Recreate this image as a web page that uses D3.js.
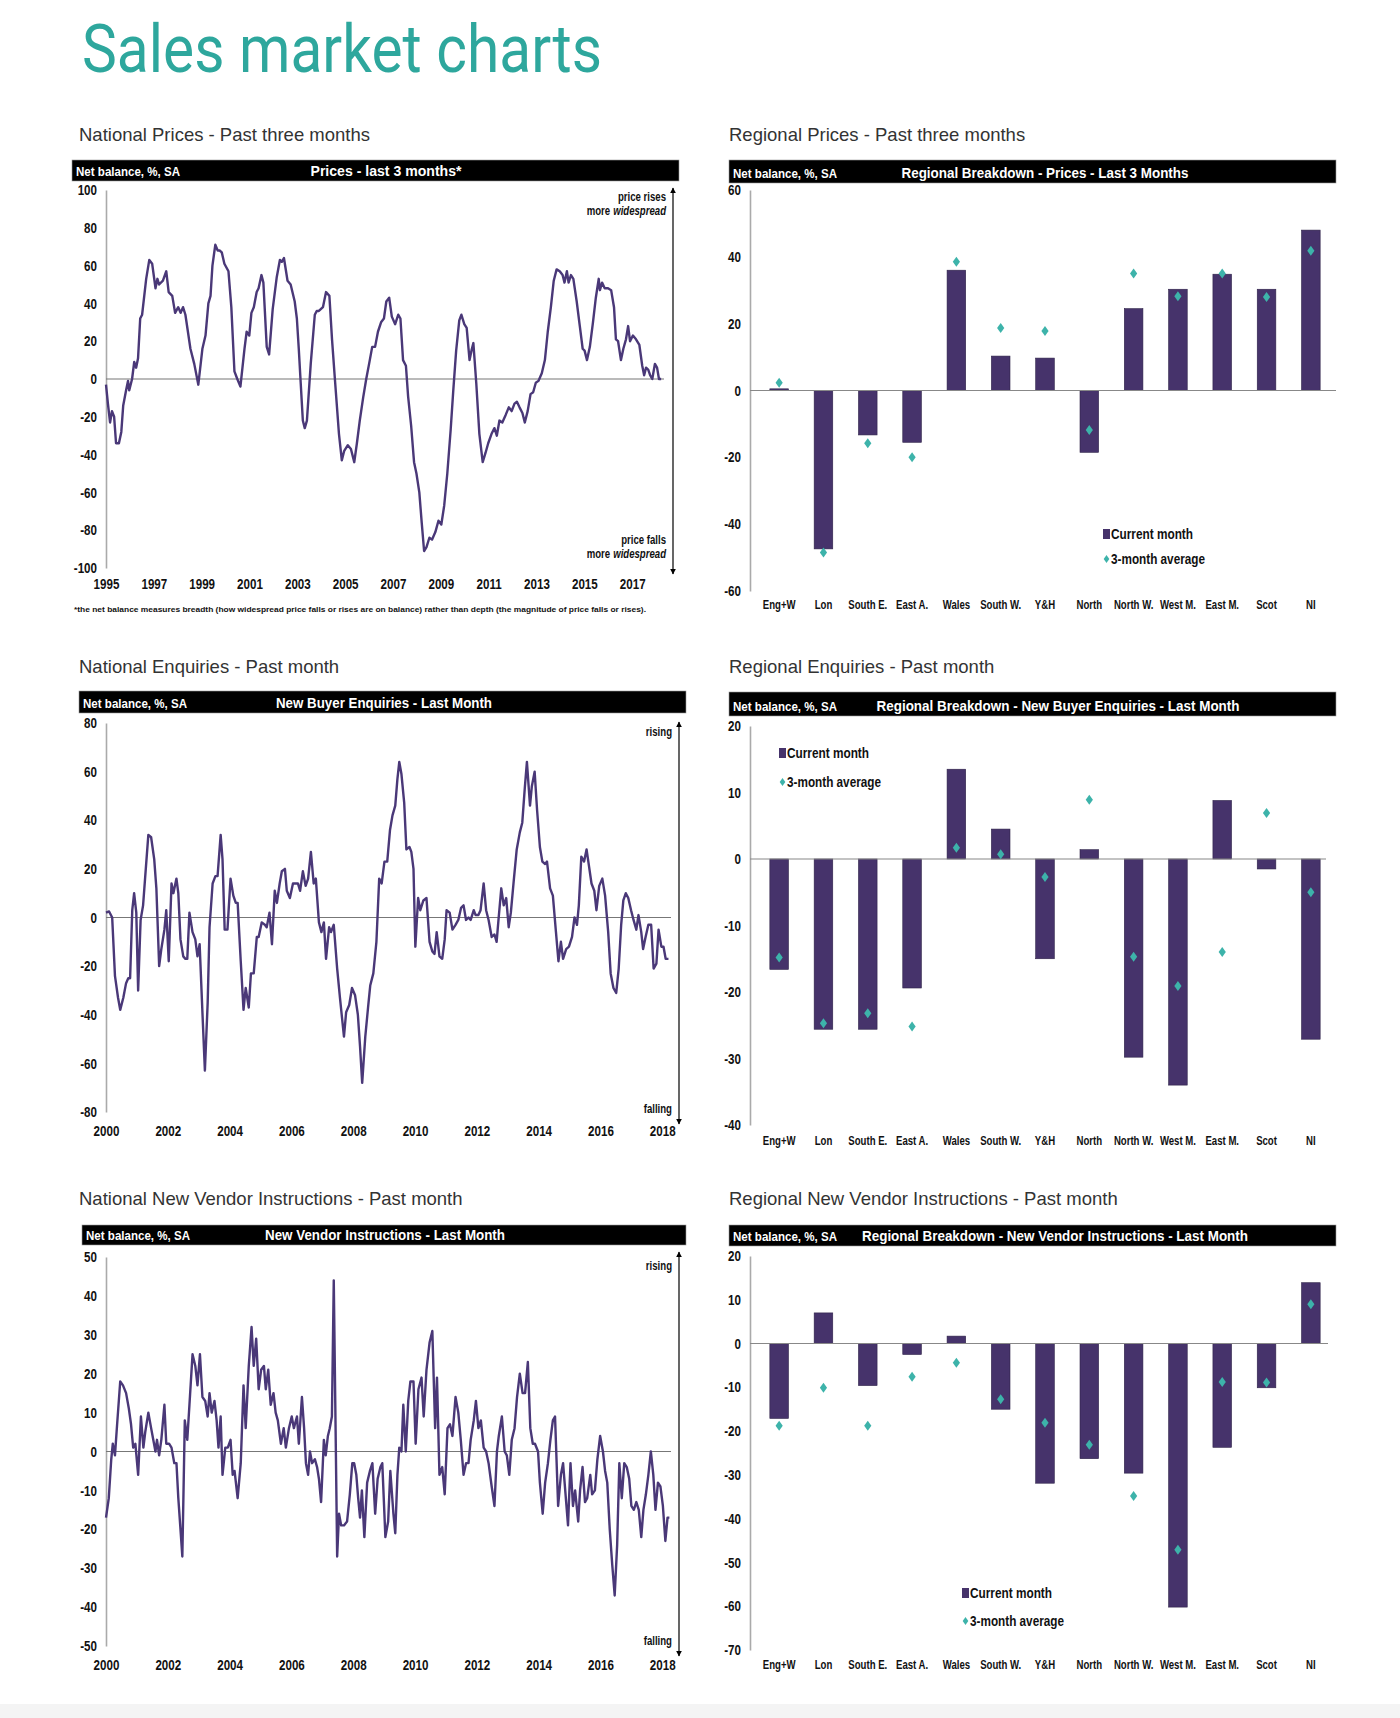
<!DOCTYPE html>
<html>
<head>
<meta charset="utf-8">
<script src="https://cdn.jsdelivr.net/npm/d3@7"></script>
<style>
  body { margin: 0; background: #fff; }
  svg { display: block; }
</style>
</head>
<body>
<script>
let width = 1400
let height = 1718
let narrow = '"Liberation Sans", Arial, sans-serif'
let squeeze = 0.8
let barColor = "#46336b"
let lineColor = "#4a3878"
let teal = "#3db3aa"

// ---- data ----
let regions = ["Eng+W", "Lon", "South E.", "East A.", "Wales", "South W.", "Y&H", "North", "North W.", "West M.", "East M.", "Scot", "NI"]

let regPricesCurrent = [0.5, -47.4, -13.3, -15.5, 36, 10.3, 9.7, -18.5, 24.5, 30.3, 34.8, 30.3, 48]
let regPricesAvg = [2.3, -48.5, -15.8, -20, 38.5, 18.7, 17.8, -11.8, 35, 28.2, 35, 28, 41.8]

let regEnquiriesCurrent = [-16.6, -25.6, -25.6, -19.4, 13.5, 4.5, -15, 1.4, -29.8, -34, 8.8, -1.5, -27.1]
let regEnquiriesAvg = [-14.8, -24.7, -23.2, -25.2, 1.7, 0.7, -2.7, 8.9, -14.7, -19.1, -14, 6.9, -5]

let regVendorCurrent = [-17.1, 7, -9.6, -2.5, 1.7, -15, -31.9, -26.3, -29.6, -60.2, -23.7, -10.1, 13.9]
let regVendorAvg = [-18.8, -10.1, -18.8, -7.6, -4.4, -12.7, -18.1, -23.1, -34.8, -47.1, -8.8, -8.9, 9]

// [decimal year, net balance]
let nationalPrices = [
  [1995.00,-3],[1995.08,-13],[1995.17,-23],[1995.25,-17],[1995.34,-20],[1995.42,-34],[1995.54,-34],[1995.64,-28],
  [1995.72,-14],[1995.84,-6],[1995.92,-1],[1995.97,-6],[1996.09,0],[1996.18,9],[1996.26,6],[1996.34,11],[1996.43,32],
  [1996.51,34],[1996.68,53],[1996.81,63],[1996.93,61],[1997.07,48],[1997.15,53],[1997.22,50],[1997.38,52],[1997.52,57],
  [1997.62,46],[1997.77,44],[1997.89,35],[1998.02,38],[1998.12,35],[1998.22,38],[1998.32,34],[1998.53,16],[1998.69,8],
  [1998.86,-3],[1999.03,16],[1999.16,23],[1999.28,40],[1999.37,44],[1999.45,60],[1999.57,71],[1999.67,68],[1999.75,68],
  [1999.84,67],[1999.95,61],[2000.12,57],[2000.24,38],[2000.37,4],[2000.49,0],[2000.62,-4],[2000.79,16],[2000.88,25],
  [2000.99,23],[2001.08,35],[2001.18,38],[2001.30,46],[2001.38,48],[2001.50,55],[2001.58,51],[2001.72,17],[2001.82,13],
  [2001.97,37],[2002.14,54],[2002.27,63],[2002.35,62],[2002.44,64],[2002.59,52],[2002.72,50],[2002.89,41],[2002.98,32],
  [2003.06,16],[2003.14,-2],[2003.23,-22],[2003.31,-26],[2003.40,-22],[2003.56,8],[2003.73,34],[2003.81,36],[2003.90,36],
  [2004.07,38],[2004.20,46],[2004.34,44],[2004.45,21],[2004.57,0],[2004.74,-29],[2004.86,-43],[2004.96,-38],[2005.11,-35],
  [2005.24,-37],[2005.38,-44],[2005.49,-34],[2005.61,-22],[2005.75,-10],[2005.88,0],[2006.00,8],[2006.13,17],[2006.25,17],
  [2006.37,25],[2006.50,30],[2006.62,32],[2006.72,41],[2006.84,43],[2006.95,33],[2007.09,29],[2007.22,34],[2007.31,32],
  [2007.42,10],[2007.54,7],[2007.63,-9],[2007.76,-25],[2007.88,-44],[2007.98,-50],[2008.10,-60],[2008.20,-76],[2008.30,-91],
  [2008.40,-89],[2008.52,-84],[2008.63,-85],[2008.77,-81],[2008.90,-75],[2009.02,-77],[2009.14,-67],[2009.27,-50],
  [2009.41,-27],[2009.52,-6],[2009.64,15],[2009.77,31],[2009.86,34],[2009.98,29],[2010.08,27],[2010.20,10],[2010.28,15],
  [2010.36,19],[2010.48,-2],[2010.61,-29],[2010.75,-44],[2010.87,-39],[2010.98,-34],[2011.12,-29],[2011.24,-26],
  [2011.34,-30],[2011.45,-22],[2011.57,-23],[2011.71,-19],[2011.84,-15],[2011.96,-17],[2012.08,-13],[2012.18,-12],
  [2012.29,-15],[2012.41,-18],[2012.51,-23],[2012.63,-17],[2012.75,-8],[2012.86,-7],[2012.97,-2],[2013.08,-1],[2013.22,3],
  [2013.35,10],[2013.47,25],[2013.60,38],[2013.72,52],[2013.84,58],[2013.97,57],[2014.09,55],[2014.17,51],[2014.27,57],
  [2014.34,51],[2014.44,55],[2014.54,53],[2014.68,41],[2014.81,28],[2014.93,16],[2015.01,15],[2015.11,10],[2015.23,17],
  [2015.36,30],[2015.48,43],[2015.60,53],[2015.65,47],[2015.74,51],[2015.85,48],[2015.99,48],[2016.12,47],[2016.24,38],
  [2016.32,21],[2016.41,20],[2016.53,10],[2016.63,16],[2016.74,21],[2016.83,28],[2016.91,20],[2017.03,23],[2017.16,21],
  [2017.30,18],[2017.42,7],[2017.50,2],[2017.58,6],[2017.67,5],[2017.75,2],[2017.84,0],[2017.95,8],[2018.04,6],
  [2018.12,0],[2018.21,0]
]

let buyerEnquiries = [
  [2000.00,2],[2000.10,2.5],[2000.20,0],[2000.29,-24],[2000.39,-33],[2000.46,-38],[2000.56,-33],[2000.65,-27],[2000.72,-25],
  [2000.78,-25],[2000.85,3],[2000.91,10],[2000.98,2],[2001.04,-30],[2001.12,-1],[2001.20,5],[2001.27,17],[2001.37,34],
  [2001.46,33],[2001.56,24],[2001.63,12],[2001.72,-20],[2001.79,-13],[2001.89,-5],[2001.95,3],[2002.03,-18],[2002.12,14],
  [2002.18,10],[2002.28,16],[2002.34,10],[2002.41,-9],[2002.50,-16],[2002.57,-17],[2002.63,-17],[2002.70,2],[2002.80,-6],
  [2002.89,-9],[2002.96,-16],[2003.03,-11],[2003.12,-39],[2003.20,-63],[2003.29,-35],[2003.35,-4],[2003.45,14],[2003.54,17],
  [2003.61,17],[2003.71,34],[2003.77,24],[2003.84,-5],[2003.93,-5],[2004.03,16],[2004.12,9],[2004.20,6],[2004.26,6],
  [2004.36,-18],[2004.45,-38],[2004.52,-29],[2004.62,-37],[2004.69,-23],[2004.78,-23],[2004.88,-8],[2004.94,-8],
  [2005.04,-2],[2005.14,-3],[2005.20,-4],[2005.29,2],[2005.37,-11],[2005.46,11],[2005.53,6],[2005.62,14],[2005.69,19],
  [2005.79,20],[2005.85,11],[2005.95,8],[2006.05,14],[2006.14,14],[2006.21,14],[2006.28,11],[2006.37,19],[2006.46,13],
  [2006.54,16],[2006.63,27],[2006.72,14],[2006.79,16],[2006.89,-2],[2006.97,-6],[2007.05,-2],[2007.12,-17],[2007.22,-4],
  [2007.28,-6],[2007.37,-3],[2007.48,-21],[2007.57,-33],[2007.70,-49],[2007.77,-39],[2007.87,-36],[2007.96,-29],
  [2008.06,-32],[2008.15,-40],[2008.22,-53],[2008.29,-68],[2008.39,-49],[2008.48,-37],[2008.55,-28],[2008.65,-23],
  [2008.75,-10],[2008.84,16],[2008.92,14],[2009.01,23],[2009.10,23],[2009.19,36],[2009.27,42],[2009.36,46],[2009.43,57],
  [2009.49,64],[2009.56,59],[2009.65,47],[2009.72,28],[2009.82,29],[2009.88,27],[2009.95,20],[2010.01,-12],[2010.10,8],
  [2010.17,3],[2010.27,7],[2010.37,8],[2010.47,-10],[2010.56,-14],[2010.63,-15],[2010.70,-6],[2010.79,-16],[2010.88,-17],
  [2010.96,-9],[2011.02,3],[2011.12,2],[2011.21,-5],[2011.31,-3],[2011.40,-1],[2011.49,4],[2011.57,5],[2011.65,-1],
  [2011.73,0],[2011.80,-1],[2011.90,3],[2011.96,1],[2012.05,1],[2012.12,3],[2012.22,14],[2012.30,3],[2012.38,-1],
  [2012.48,-8],[2012.57,-7],[2012.64,-10],[2012.70,-1],[2012.79,12],[2012.87,5],[2012.95,8],[2013.03,-4],[2013.10,2],
  [2013.20,16],[2013.29,28],[2013.39,35],[2013.47,39],[2013.55,53],[2013.62,64],[2013.72,46],[2013.78,54],[2013.87,60],
  [2013.95,44],[2014.04,29],[2014.12,23],[2014.21,22],[2014.27,23],[2014.37,12],[2014.46,9],[2014.56,-6],[2014.64,-18],
  [2014.72,-10],[2014.79,-17],[2014.89,-13],[2014.98,-12],[2015.08,-8],[2015.16,0],[2015.24,-3],[2015.30,5],[2015.38,25],
  [2015.47,23],[2015.55,28],[2015.63,21],[2015.71,14],[2015.80,11],[2015.87,3],[2015.96,13],[2016.06,16],[2016.15,9],
  [2016.25,-6],[2016.33,-23],[2016.42,-29],[2016.51,-31],[2016.59,-21],[2016.67,-3],[2016.74,7],[2016.82,10],[2016.90,8],
  [2016.99,3],[2017.07,-1],[2017.16,-5],[2017.23,1],[2017.32,-6],[2017.38,-13],[2017.46,-8],[2017.55,-3],[2017.64,-3],
  [2017.72,-21],[2017.81,-19],[2017.88,-5],[2017.97,-12],[2018.04,-12],[2018.11,-17],[2018.20,-17]
]

let vendorInstructions = [
  [2000.00,-17],[2000.09,-12],[2000.17,-2],[2000.22,2],[2000.29,-1],[2000.36,7],[2000.46,18],[2000.55,17],[2000.65,15],
  [2000.74,11],[2000.81,7],[2000.88,1],[2000.95,2],[2001.04,-6],[2001.13,9],[2001.21,1],[2001.27,5],[2001.37,10],
  [2001.46,6],[2001.53,3],[2001.60,0],[2001.65,3],[2001.72,-1],[2001.79,3],[2001.89,12],[2001.95,2],[2002.04,2],
  [2002.12,1],[2002.21,-3],[2002.28,-3],[2002.34,-12],[2002.41,-20],[2002.47,-27],[2002.55,8],[2002.63,3],[2002.70,12],
  [2002.80,25],[2002.89,22],[2002.96,17],[2003.04,25],[2003.12,14],[2003.21,13],[2003.29,9],[2003.35,15],[2003.42,10],
  [2003.51,13],[2003.58,8],[2003.64,1],[2003.71,9],[2003.77,-6],[2003.86,1],[2003.94,1],[2004.03,3],[2004.10,-6],
  [2004.16,-5],[2004.26,-12],[2004.36,-3],[2004.45,17],[2004.52,6],[2004.62,22],[2004.71,32],[2004.78,22],[2004.86,29],
  [2004.94,16],[2005.02,21],[2005.11,22],[2005.17,16],[2005.25,21],[2005.33,12],[2005.42,15],[2005.49,10],[2005.56,8],
  [2005.66,2],[2005.75,6],[2005.82,1],[2005.92,6],[2006.01,9],[2006.08,6],[2006.18,9],[2006.24,2],[2006.34,14],
  [2006.41,6],[2006.47,-3],[2006.54,-6],[2006.60,0],[2006.67,-3],[2006.76,-2],[2006.83,-4],[2006.89,-7],[2006.96,-13],
  [2007.05,3],[2007.11,-1],[2007.18,4],[2007.24,6],[2007.31,9],[2007.37,44],[2007.48,-27],[2007.54,-16],[2007.61,-19],
  [2007.70,-19],[2007.80,-18],[2007.89,-11],[2007.97,-3],[2008.03,-3],[2008.10,-6],[2008.16,-12],[2008.22,-17],
  [2008.28,-10],[2008.36,-22],[2008.45,-8],[2008.54,-5],[2008.62,-3],[2008.71,-16],[2008.79,-7],[2008.88,-4],[2008.94,-3],
  [2009.04,-22],[2009.13,-18],[2009.20,-5],[2009.30,-16],[2009.36,-21],[2009.43,-6],[2009.49,1],[2009.56,0],[2009.62,12],
  [2009.70,0],[2009.78,13],[2009.85,18],[2009.95,18],[2010.02,2],[2010.11,16],[2010.21,19],[2010.28,9],[2010.37,21],
  [2010.47,28],[2010.56,31],[2010.65,6],[2010.71,19],[2010.79,-6],[2010.88,-4],[2010.96,-11],[2011.05,6],[2011.13,7],
  [2011.21,4],[2011.31,14],[2011.40,10],[2011.48,3],[2011.57,-6],[2011.65,-3],[2011.73,-3],[2011.80,3],[2011.90,8],
  [2011.97,13],[2012.05,6],[2012.13,8],[2012.22,1],[2012.30,0],[2012.38,-3],[2012.48,-9],[2012.57,-14],[2012.65,0],
  [2012.71,4],[2012.81,9],[2012.90,0],[2012.97,-1],[2013.05,-6],[2013.13,3],[2013.22,6],[2013.30,14],[2013.39,20],
  [2013.48,15],[2013.56,15],[2013.65,23],[2013.73,6],[2013.81,2],[2013.88,2],[2013.98,0],[2014.04,-8],[2014.13,-16],
  [2014.21,-8],[2014.30,-3],[2014.38,3],[2014.46,8],[2014.53,9],[2014.63,-14],[2014.72,-6],[2014.79,-3],[2014.87,-11],
  [2014.95,-19],[2015.03,-3],[2015.11,-14],[2015.18,-10],[2015.28,-18],[2015.34,-10],[2015.42,-4],[2015.50,-13],
  [2015.57,-12],[2015.67,-6],[2015.73,-11],[2015.82,-10],[2015.90,-2],[2015.99,4],[2016.08,0],[2016.15,-5],[2016.22,-8],
  [2016.30,-20],[2016.38,-29],[2016.46,-37],[2016.54,-24],[2016.61,-3],[2016.69,-12],[2016.77,-3],[2016.85,-4],
  [2016.93,-7],[2017.00,-14],[2017.08,-15],[2017.16,-13],[2017.24,-15],[2017.32,-22],[2017.39,-15],[2017.47,-11],
  [2017.55,-6],[2017.63,0],[2017.71,-6],[2017.78,-15],[2017.86,-8],[2017.94,-9],[2018.02,-14],[2018.10,-23],
  [2018.17,-17],[2018.23,-17]
]

let pricesYTicks = d3.range(-100, 101, 20)
let enquiriesYTicks = d3.range(-80, 81, 20)
let vendorYTicks = d3.range(-50, 51, 10)
let regPricesTicks = d3.range(-60, 61, 20)
let regEnquiriesTicks = d3.range(-40, 21, 10)
let regVendorTicks = d3.range(-70, 21, 10)
let pricesYears = d3.range(1995, 2018, 2)
let surveyYears = d3.range(2000, 2019, 2)

// ---- page ----
let svg = d3.select("body")
  .append("svg")
  .attr("width", width)
  .attr("height", height)

let defs = svg.append("defs")
defs.append("marker")
  .attr("id", "arrowEnd")
  .attr("viewBox", "0 0 10 10")
  .attr("refX", 9).attr("refY", 5)
  .attr("markerWidth", 5).attr("markerHeight", 7)
  .attr("orient", "auto")
  .append("path")
  .attr("d", "M0,0L10,5L0,10Z")
  .attr("fill", "#000")

// Arial Narrow is not installed: squeeze bold Liberation Sans instead
let squeezeText = sel => {
  sel.each(function () {
    let w = this.getComputedTextLength()
    if (w > 0) d3.select(this).attr("textLength", w * squeeze).attr("lengthAdjust", "spacingAndGlyphs")
  })
}

svg.append("rect")
  .attr("x", 0).attr("y", 1704)
  .attr("width", width).attr("height", height - 1704)
  .attr("fill", "#f4f4f4")

svg.append("text")
  .attr("x", 82).attr("y", 72)
  .attr("font-family", "Roboto, sans-serif")
  .attr("font-size", 66)
  .attr("fill", "#2ea79d")
  .attr("textLength", 520)
  .attr("lengthAdjust", "spacingAndGlyphs")
  .text("Sales market charts")

let sectionTitle = (x, y, label) => {
  svg.append("text")
    .attr("x", x).attr("y", y)
    .attr("font-family", '"Liberation Sans", Arial, sans-serif')
    .attr("font-size", 18.5)
    .attr("fill", "#333")
    .text(label)
}

let header = (p) => {
  let g = svg.append("g")
  g.append("rect")
    .attr("x", p.hx0).attr("y", p.hy0)
    .attr("width", p.hx1 - p.hx0).attr("height", p.hy1 - p.hy0)
    .attr("fill", "#000")
    .attr("stroke", "#999").attr("stroke-width", 0.6)
  g.append("text")
    .attr("x", p.hx0 + 4).attr("y", p.hy1 - 5)
    .attr("font-family", narrow).attr("font-weight", "bold")
    .attr("font-size", 13.5).attr("fill", "#fff")
    .attr("textLength", 104).attr("lengthAdjust", "spacingAndGlyphs")
    .text("Net balance, %, SA")
  g.append("text")
    .attr("x", p.titleX).attr("y", p.hy1 - 5)
    .attr("text-anchor", "middle")
    .attr("font-family", narrow).attr("font-weight", "bold")
    .attr("font-size", 15).attr("fill", "#fff")
    .attr("textLength", p.titleW).attr("lengthAdjust", "spacingAndGlyphs")
    .text(p.title)
}

let styleAxisText = (sel, size) => {
  sel.selectAll("text")
    .attr("font-family", narrow)
    .attr("font-weight", "bold")
    .attr("font-size", size)
    .attr("fill", "#111")
    .call(squeezeText)
}

let drawLinePanel = p => {
  header(p)
  let g = svg.append("g")
  let x = d3.scaleLinear().domain(p.xDomain).range([p.x0, p.x1])
  let y = d3.scaleLinear().domain(p.yDomain).range([p.yBottom, p.yTop])

  let yAxis = g.append("g")
    .attr("transform", `translate(${p.x0},0)`)
    .call(d3.axisLeft(y).tickValues(p.yTicks).tickSize(0).tickSizeOuter(0).tickPadding(9).tickFormat(d => String(d)))
  yAxis.select(".domain").attr("stroke", "#aaa").attr("stroke-width", 1.6)
  styleAxisText(yAxis, 14.5)

  let xAxis = g.append("g")
    .attr("transform", `translate(0,${p.xLabelY})`)
    .call(d3.axisBottom(x).tickValues(p.xTicks).tickSize(0).tickPadding(0).tickFormat(d => String(d)))
  xAxis.select(".domain").remove()
  xAxis.selectAll("text").attr("dy", "0.35em")
  styleAxisText(xAxis, 14.5)

  g.append("line")
    .attr("x1", p.x0).attr("x2", p.zeroEnd)
    .attr("y1", y(0)).attr("y2", y(0))
    .attr("stroke", "#777").attr("stroke-width", 1.1)

  g.append("path")
    .datum(p.data)
    .attr("fill", "none")
    .attr("stroke", lineColor)
    .attr("stroke-width", 2.4)
    .attr("stroke-linejoin", "round")
    .attr("d", d3.line().x(d => x(d[0])).y(d => y(d[1])))

  // up/down arrow on the right
  g.append("line")
    .attr("x1", p.arrowX).attr("x2", p.arrowX)
    .attr("y1", p.arrowY0 + 14).attr("y2", p.arrowY0)
    .attr("stroke", "#000").attr("stroke-width", 1.2)
    .attr("marker-end", "url(#arrowEnd)")
  g.append("line")
    .attr("x1", p.arrowX).attr("x2", p.arrowX)
    .attr("y1", p.arrowY0 + 14).attr("y2", p.arrowY1)
    .attr("stroke", "#000").attr("stroke-width", 1.2)
    .attr("marker-end", "url(#arrowEnd)")

  // notes: italic word and plain word as separate texts, right-aligned
  p.notes.forEach(n => {
    let xr = p.arrowX - 7
    let parts = n.italic ? [[n.italic, "italic"], [n.text, "normal"]] : [[n.text, "normal"]]
    parts.forEach(([s, style]) => {
      let t = g.append("text")
        .attr("x", xr).attr("y", n.y)
        .attr("text-anchor", "end")
        .attr("font-family", narrow).attr("font-weight", "bold")
        .attr("font-style", style)
        .attr("font-size", 12).attr("fill", "#111")
        .text(s)
      let w = t.node().getComputedTextLength() * squeeze
      t.attr("textLength", w).attr("lengthAdjust", "spacingAndGlyphs")
      xr -= w + 3
    })
  })
}

let drawBarPanel = p => {
  header(p)
  let g = svg.append("g")
  let x = d3.scaleBand().domain(regions).range([p.x0, p.x1]).paddingInner(0.58).paddingOuter(0.29)
  let y = d3.scaleLinear().domain(p.yDomain).range([p.yBottom, p.yTop])

  let yAxis = g.append("g")
    .attr("transform", `translate(${p.axisX},0)`)
    .call(d3.axisLeft(y).tickValues(p.yTicks).tickSize(0).tickSizeOuter(0).tickPadding(9).tickFormat(d => String(d)))
  yAxis.select(".domain").attr("stroke", "#aaa").attr("stroke-width", 1.6)
  styleAxisText(yAxis, 14.5)

  let xAxis = g.append("g")
    .attr("transform", `translate(0,${p.xLabelY})`)
    .call(d3.axisBottom(x).tickSize(0).tickPadding(0))
  xAxis.select(".domain").remove()
  xAxis.selectAll("text").attr("dy", "0.35em")
  styleAxisText(xAxis, 12)

  g.selectAll(".bar")
    .data(p.current)
    .enter()
    .append("rect")
    .attr("x", (d, i) => x(regions[i]))
    .attr("width", x.bandwidth())
    .attr("y", d => y(Math.max(0, d)))
    .attr("height", d => Math.abs(y(d) - y(0)))
    .attr("fill", barColor)
    .attr("stroke", "#2e2248").attr("stroke-width", 0.6)

  g.append("line")
    .attr("x1", p.axisX).attr("x2", p.zeroEnd)
    .attr("y1", y(0)).attr("y2", y(0))
    .attr("stroke", "#888").attr("stroke-width", 1.1)

  g.selectAll(".avg")
    .data(p.average)
    .enter()
    .append("path")
    .attr("d", "M0,-5L3.6,0L0,5L-3.6,0Z")
    .attr("transform", (d, i) => `translate(${x(regions[i]) + x.bandwidth() / 2},${y(d)})`)
    .attr("fill", teal)

  let lg = g.append("g").attr("transform", `translate(${p.legendX},${p.legendY})`)
  lg.append("rect").attr("x", 0).attr("y", -10).attr("width", 7).attr("height", 10).attr("fill", barColor)
  lg.append("text").attr("x", 8).attr("y", 0)
    .attr("font-family", narrow).attr("font-weight", "bold").attr("font-size", 14).attr("fill", "#111")
    .attr("textLength", 82).attr("lengthAdjust", "spacingAndGlyphs")
    .text("Current month")
  lg.append("path").attr("d", "M0,-4L2.8,0L0,4L-2.8,0Z")
    .attr("transform", `translate(3.5,${p.legendGap - 5})`).attr("fill", teal)
  lg.append("text").attr("x", 8).attr("y", p.legendGap)
    .attr("font-family", narrow).attr("font-weight", "bold").attr("font-size", 14).attr("fill", "#111")
    .attr("textLength", 94).attr("lengthAdjust", "spacingAndGlyphs")
    .text("3-month average")
}

// ---- row 1 ----
sectionTitle(79, 141, "National Prices - Past three months")
sectionTitle(729, 141, "Regional Prices - Past three months")

drawLinePanel({
  hx0: 72, hx1: 679, hy0: 160, hy1: 181,
  title: "Prices - last 3 months*", titleX: 386, titleW: 151,
  data: nationalPrices,
  xDomain: [1995, 2018.33], x0: 106, x1: 664, zeroEnd: 664,
  yDomain: [-100, 100], yBottom: 568, yTop: 190,
  yTicks: pricesYTicks, xTicks: pricesYears, xLabelY: 584,
  arrowX: 673, arrowY0: 188, arrowY1: 574,
  notes: [
    { y: 201, text: "price rises" },
    { y: 215, text: "more", italic: "widespread" },
    { y: 544, text: "price falls" },
    { y: 558, text: "more", italic: "widespread" }
  ]
})

svg.append("text")
  .attr("x", 74).attr("y", 612)
  .attr("font-family", narrow).attr("font-weight", "bold")
  .attr("font-size", 8).attr("fill", "#111")
  .attr("textLength", 572).attr("lengthAdjust", "spacingAndGlyphs")
  .text("*the net balance measures breadth (how widespread price falls or rises are on balance)  rather than depth (the magnitude of price falls or rises).")

drawBarPanel({
  hx0: 729, hx1: 1336, hy0: 160, hy1: 183,
  title: "Regional Breakdown - Prices - Last 3 Months", titleX: 1045, titleW: 287,
  current: regPricesCurrent, average: regPricesAvg,
  x0: 757, x1: 1333, axisX: 750, zeroEnd: 1336,
  yDomain: [-60, 60], yBottom: 591, yTop: 190, yTicks: regPricesTicks, xLabelY: 605,
  legendX: 1103, legendY: 539, legendGap: 25
})

// ---- row 2 ----
sectionTitle(79, 673, "National Enquiries - Past month")
sectionTitle(729, 673, "Regional Enquiries - Past month")

drawLinePanel({
  hx0: 79, hx1: 686, hy0: 691, hy1: 713,
  title: "New Buyer Enquiries - Last Month", titleX: 384, titleW: 216,
  data: buyerEnquiries,
  xDomain: [2000, 2018.25], x0: 106, x1: 670, zeroEnd: 671,
  yDomain: [-80, 80], yBottom: 1112, yTop: 723,
  yTicks: enquiriesYTicks, xTicks: surveyYears, xLabelY: 1131,
  arrowX: 679, arrowY0: 722, arrowY1: 1124,
  notes: [
    { y: 736, text: "rising" },
    { y: 1113, text: "falling" }
  ]
})

drawBarPanel({
  hx0: 729, hx1: 1336, hy0: 692, hy1: 716,
  title: "Regional Breakdown - New Buyer Enquiries - Last Month", titleX: 1058, titleW: 363,
  current: regEnquiriesCurrent, average: regEnquiriesAvg,
  x0: 757, x1: 1333, axisX: 750, zeroEnd: 1326,
  yDomain: [-40, 20], yBottom: 1125, yTop: 726, yTicks: regEnquiriesTicks, xLabelY: 1141,
  legendX: 779, legendY: 758, legendGap: 29
})

// ---- row 3 ----
sectionTitle(79, 1205, "National New Vendor Instructions - Past month")
sectionTitle(729, 1205, "Regional New Vendor Instructions - Past month")

drawLinePanel({
  hx0: 82, hx1: 686, hy0: 1225, hy1: 1245,
  title: "New Vendor Instructions - Last Month", titleX: 385, titleW: 240,
  data: vendorInstructions,
  xDomain: [2000, 2018.25], x0: 106, x1: 670, zeroEnd: 671,
  yDomain: [-50, 50], yBottom: 1646, yTop: 1257,
  yTicks: vendorYTicks, xTicks: surveyYears, xLabelY: 1665,
  arrowX: 679, arrowY0: 1252, arrowY1: 1656,
  notes: [
    { y: 1270, text: "rising" },
    { y: 1645, text: "falling" }
  ]
})

drawBarPanel({
  hx0: 729, hx1: 1336, hy0: 1225, hy1: 1246,
  title: "Regional Breakdown - New Vendor Instructions - Last Month", titleX: 1055, titleW: 386,
  current: regVendorCurrent, average: regVendorAvg,
  x0: 757, x1: 1333, axisX: 750, zeroEnd: 1328,
  yDomain: [-70, 20], yBottom: 1650, yTop: 1256, yTicks: regVendorTicks, xLabelY: 1665,
  legendX: 962, legendY: 1598, legendGap: 28
})
</script>
</body>
</html>
